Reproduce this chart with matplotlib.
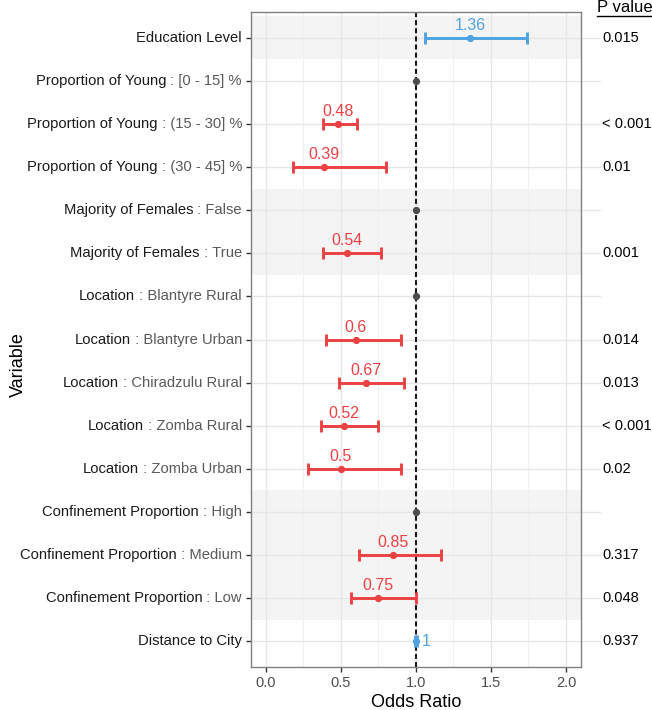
import matplotlib
matplotlib.use("Agg")
import matplotlib.pyplot as plt
import numpy as np

plt.rcParams['font.family'] = ['Liberation Sans', 'DejaVu Sans']

# data, top row first
variables = ['Education Level', 'Proportion of Young', 'Proportion of Young', 'Proportion of Young',
             'Majority of Females', 'Majority of Females',
             'Location', 'Location', 'Location', 'Location', 'Location',
             'Confinement Proportion', 'Confinement Proportion', 'Confinement Proportion',
             'Distance to City']
levels = ['', '[0 - 15] %', '(15 - 30] %', '(30 - 45] %',
          'False', 'True',
          'Blantyre Rural', 'Blantyre Urban', 'Chiradzulu Rural', 'Zomba Rural', 'Zomba Urban',
          'High', 'Medium', 'Low',
          '']
odds = [1.36, None, 0.48, 0.39, None, 0.54, None, 0.60, 0.67, 0.52, 0.50, None, 0.85, 0.75, 1.00]
lower = [1.06, None, 0.38, 0.18, None, 0.38, None, 0.40, 0.49, 0.37, 0.28, None, 0.62, 0.57, 0.995]
upper = [1.74, None, 0.61, 0.80, None, 0.77, None, 0.90, 0.92, 0.75, 0.90, None, 1.17, 1.00, 1.005]
labels = ['1.36', '', '0.48', '0.39', '', '0.54', '', '0.6', '0.67', '0.52', '0.5', '', '0.85', '0.75', '1']
pvals = ['0.015', '', '< 0.001', '0.01', '', '0.001', '', '0.014', '0.013', '< 0.001', '0.02', '',
         '0.317', '0.048', '0.937']
shaded_groups = ['Education Level', 'Majority of Females', 'Confinement Proportion']

RED = '#EB4143'
BLUE = '#4EA3E0'
REF = '#4D4D4D'


def main():
    fig = plt.figure(figsize=(6.52, 7.10), dpi=100)
    W, H = 652, 710
    ax = fig.add_axes([251 / W, 43 / H, 330 / W, 655 / H])

    n = len(variables)
    ys = np.arange(n, 0, -1)

    # shaded bands per group
    for y, var in zip(ys, variables):
        if var in shaded_groups:
            ax.axhspan(y - 0.5, y + 0.5, color='#F4F4F4', lw=0, zorder=0)

    # grid
    for x in np.arange(0, 2.01, 0.5):
        ax.axvline(x, color='#E6E6E6', lw=1.0, zorder=1)
    for x in np.arange(0.25, 2.0, 0.5):
        ax.axvline(x, color='#EFEFEF', lw=0.7, zorder=1)
    for y in ys:
        ax.plot([0, 1.058], [y, y], color='#E6E6E6', lw=1.0, zorder=1,
                transform=ax.get_yaxis_transform(), clip_on=False)

    ax.axvline(1.0, color='#1A1A1A', lw=1.5, dashes=(2.4, 1.5), zorder=2)

    for i, y in enumerate(ys):
        if odds[i] is None:
            ax.plot(1.0, y, 'o', color=REF, ms=4.2, zorder=4)
            continue
        col = RED if odds[i] < 1 else BLUE
        ax.errorbar(odds[i], y, xerr=[[odds[i] - lower[i]], [upper[i] - odds[i]]],
                    fmt='o', color=col, ms=4.2, elinewidth=2.1, capsize=4.4, capthick=2.1, zorder=4)
        if labels[i] == '1':
            ax.text(odds[i] + 0.04, y, labels[i], color=col, fontsize=11.5,
                    ha='left', va='center', zorder=5)
        else:
            ax.text(odds[i], y + 0.29, labels[i], color=col, fontsize=11.5,
                    ha='center', va='center', zorder=5)

    # p values
    for i, y in enumerate(ys):
        if pvals[i]:
            ax.annotate(pvals[i], xy=(1, y), xycoords=ax.get_yaxis_transform(),
                        xytext=(21, 0), textcoords='offset pixels',
                        ha='left', va='center', fontsize=10.5, color='black')
    fig.text(597 / W, 1 - 8 / H, 'P value', fontsize=12, ha='left', va='center')
    fig.add_artist(plt.Line2D([597 / W, 1.0], [1 - 16 / H, 1 - 16 / H], color='black', lw=1))

    # y tick labels: black variable + grey level
    for i, y in enumerate(ys):
        if levels[i]:
            lev = ax.annotate(' : ' + levels[i], xy=(0, y), xycoords=ax.get_yaxis_transform(),
                              xytext=(-9, 0), textcoords='offset pixels',
                              ha='right', va='center', fontsize=10.6, color='#595959')
            ax.annotate(variables[i], xy=(0, 0.5), xycoords=lev,
                        ha='right', va='center', fontsize=10.6, color='#1A1A1A')
        else:
            ax.annotate(variables[i], xy=(0, y), xycoords=ax.get_yaxis_transform(),
                        xytext=(-9, 0), textcoords='offset pixels',
                        ha='right', va='center', fontsize=10.6, color='#1A1A1A')

    ax.set_xlim(-0.098, 2.1)
    ax.set_ylim(0.4, n + 0.6)
    ax.set_yticks(ys)
    ax.set_yticklabels([])
    ax.set_xticks([0, 0.5, 1.0, 1.5, 2.0])
    ax.set_xticklabels(['0.0', '0.5', '1.0', '1.5', '2.0'])
    ax.tick_params(axis='both', length=3.6, color='#333333', width=1,
                   labelsize=10.5, labelcolor='#4D4D4D', pad=3)
    for s in ax.spines.values():
        s.set_color('#808080')
        s.set_linewidth(1)

    ax.set_xlabel('Odds Ratio', fontsize=13, color='black', labelpad=3)
    fig.text(18 / W, 0.5 - 10 / H, 'Variable', rotation=90, fontsize=13,
             ha='center', va='center')

    fig.savefig('out.png', dpi=100)


if __name__ == "__main__":
    main()
